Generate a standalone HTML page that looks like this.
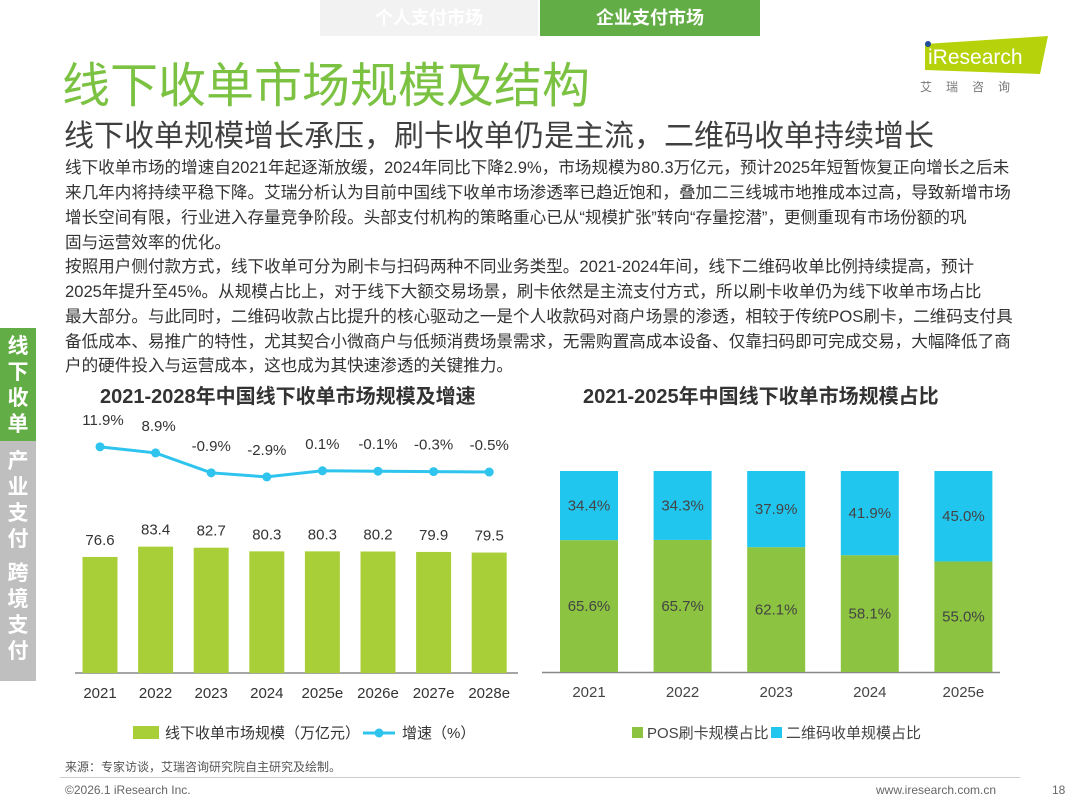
<!DOCTYPE html>
<html><head><meta charset="utf-8"><style>
body{margin:0;width:1080px;height:810px;background:#fff;position:relative;overflow:hidden;font-family:"Liberation Sans","Noto Sans CJK SC",sans-serif;}
.abs{position:absolute;}
.p{position:absolute;left:65px;font-size:16.6px;color:#333;white-space:nowrap;line-height:20px;}
</style></head><body>
<div class="abs" style="left:320px;top:0;width:218px;height:36px;background:#f2f2f2;color:#fff;font-size:18px;font-weight:bold;text-align:center;line-height:36px;">个人支付市场</div>
<div class="abs" style="left:540px;top:0;width:220px;height:36px;background:#62ad45;color:#fff;font-size:18px;font-weight:bold;text-align:center;line-height:36px;">企业支付市场</div>
<div class="abs" style="left:62px;top:46px;font-size:48px;color:#7cc242;white-space:nowrap;">线下收单市场规模及结构</div>
<div class="abs" style="left:920px;top:36px;width:130px;height:60px;">
<svg width="130" height="60"><polygon points="5,8 128,0 120,38 5,34" fill="#b5d20a"/><circle cx="8" cy="8" r="3" fill="#1f4e9a"/><text x="8" y="28" font-size="21" fill="#fff" font-family="Liberation Sans">iResearch</text><text x="0" y="55" font-size="12" fill="#777" letter-spacing="14" font-family="Noto Sans CJK SC">艾瑞咨询</text></svg></div>
<div class="abs" style="left:64px;top:111px;font-size:30px;color:#404040;white-space:nowrap;">线下收单规模增长承压，刷卡收单仍是主流，二维码收单持续增长</div>
<div>
<div class="p" style="top:158px">线下收单市场的增速自2021年起逐渐放缓，2024年同比下降2.9%，市场规模为80.3万亿元，预计2025年短暂恢复正向增长之后未</div>
<div class="p" style="top:183px">来几年内将持续平稳下降。艾瑞分析认为目前中国线下收单市场渗透率已趋近饱和，叠加二三线城市地推成本过高，导致新增市场</div>
<div class="p" style="top:208px">增长空间有限，行业进入存量竞争阶段。头部支付机构的策略重心已从“规模扩张”转向“存量挖潜”，更侧重现有市场份额的巩</div>
<div class="p" style="top:233px">固与运营效率的优化。</div>
<div class="p" style="top:257px">按照用户侧付款方式，线下收单可分为刷卡与扫码两种不同业务类型。2021-2024年间，线下二维码收单比例持续提高，预计</div>
<div class="p" style="top:282px">2025年提升至45%。从规模占比上，对于线下大额交易场景，刷卡依然是主流支付方式，所以刷卡收单仍为线下收单市场占比</div>
<div class="p" style="top:307px">最大部分。与此同时，二维码收款占比提升的核心驱动之一是个人收款码对商户场景的渗透，相较于传统POS刷卡，二维码支付具</div>
<div class="p" style="top:332px">备低成本、易推广的特性，尤其契合小微商户与低频消费场景需求，无需购置高成本设备、仅靠扫码即可完成交易，大幅降低了商</div>
<div class="p" style="top:356px">户的硬件投入与运营成本，这也成为其快速渗透的关键推力。</div>
</div>
<div class="abs" style="left:0;top:328px;width:36px;height:113px;background:#62ad45;color:#fff;font-size:21px;font-weight:bold;text-align:center;line-height:26px;padding-top:6px;box-sizing:border-box;">线<br>下<br>收<br>单</div>
<div class="abs" style="left:0;top:441px;width:36px;height:240px;background:#bfbfbf;color:#fff;font-size:21px;font-weight:bold;text-align:center;line-height:26px;padding-top:8px;box-sizing:border-box;">产<br>业<br>支<br>付<br><div style="height:8px"></div>跨<br>境<br>支<br>付</div>
<div class="abs" style="left:100px;top:380px;font-size:20px;font-weight:bold;color:#333;white-space:nowrap;">2021-2028年中国线下收单市场规模及增速</div>
<div class="abs" style="left:583px;top:380px;font-size:20px;font-weight:bold;color:#333;white-space:nowrap;">2021-2025年中国线下收单市场规模占比</div>
<svg class="abs" style="left:0;top:0" width="1080" height="810" id="charts"></svg>
<div class="abs" style="left:65px;top:758px;font-size:12px;color:#555;">来源：专家访谈，艾瑞咨询研究院自主研究及绘制。</div>
<div class="abs" style="left:60px;top:777px;width:960px;height:1px;background:#ccc;"></div>
<div class="abs" style="left:65px;top:783px;font-size:12px;color:#666;">©2026.1 iResearch Inc.</div>
<div class="abs" style="left:876px;top:783px;font-size:12px;color:#666;">www.iresearch.com.cn</div>
<div class="abs" style="left:1052px;top:783px;font-size:12px;color:#666;">18</div>
<script>
const years=['2021','2022','2023','2024','2025e','2026e','2027e','2028e'];
const scale=[76.6,83.4,82.7,80.3,80.3,80.2,79.9,79.5];
const growth=[11.9,8.9,-0.9,-2.9,0.1,-0.1,-0.3,-0.5];
const years2=['2021','2022','2023','2024','2025e'];
const pos=[65.6,65.7,62.1,58.1,55.0];
const qr=[34.4,34.3,37.9,41.9,45.0];
const NS='http://www.w3.org/2000/svg';
const svg=document.getElementById('charts');
function el(t,a,txt){const e=document.createElementNS(NS,t);for(const k in a)e.setAttribute(k,a[k]);if(txt!==undefined)e.textContent=txt;svg.appendChild(e);return e;}
const F='Liberation Sans, Noto Sans CJK SC, sans-serif';
const bx=i=>100+i*55.6, by=v=>673-v*1.515, gy=v=>471-v*2.03;
let ax=el('line',{x1:75,x2:518,y1:673,y2:673,stroke:'#888','stroke-width':1.5});

scale.forEach((v,i)=>{
 let r=el('rect',{x:bx(i)-17.5,y:by(v),width:35,height:673-by(v),fill:'#a9cf38'});
 
 let t=el('text',{x:bx(i),y:by(v)-12,'text-anchor':'middle','font-size':15,fill:'#333','font-family':F},v.toFixed(1));
 
 let l=el('text',{x:bx(i),y:698,'text-anchor':'middle','font-size':15,fill:'#333','font-family':F},years[i]);
 
});
let pl=el('polyline',{points:growth.map((g,i)=>bx(i)+','+gy(g)).join(' '),fill:'none',stroke:'#2ec4ee','stroke-width':3});

growth.forEach((g,i)=>{
 let c=el('circle',{cx:bx(i),cy:gy(g),r:4.5,fill:'#2ec4ee'});
 
 let t=el('text',{x:bx(i)+(i<2?3:0),y:gy(g)-22,'text-anchor':'middle','font-size':15,fill:'#333','font-family':F},g.toFixed(1)+'%');
 
});
let lg=el('rect',{x:133,y:726,width:26,height:13,fill:'#a9cf38'});
let lt=el('text',{x:165,y:738,'font-size':15,fill:'#333','font-family':F},'线下收单市场规模（万亿元）');
let ll=el('line',{x1:363,x2:395,y1:733,y2:733,stroke:'#2ec4ee','stroke-width':3});
let lc=el('circle',{cx:379,cy:733,r:4.5,fill:'#2ec4ee'});
let lt2=el('text',{x:402,y:738,'font-size':15,fill:'#333','font-family':F},'增速（%）');
const rx=i=>589+i*93.6, ry=v=>672-v*2.01;
let ax2=el('line',{x1:542,x2:1000,y1:672.5,y2:672.5,stroke:'#888','stroke-width':1.5});

years2.forEach((y,i)=>{
 let g=el('rect',{x:rx(i)-29,y:ry(pos[i]),width:58,height:672-ry(pos[i]),fill:'#8cc340'});
 
 let b=el('rect',{x:rx(i)-29,y:ry(pos[i]+qr[i]),width:58,height:ry(pos[i])-ry(pos[i]+qr[i]),fill:'#21c6ef'});
 
 let t1=el('text',{x:rx(i),y:(ry(pos[i])+672)/2+5,'text-anchor':'middle','font-size':15,fill:'#444','font-family':F},pos[i].toFixed(1)+'%');
 
 let t2=el('text',{x:rx(i),y:(ry(pos[i])+ry(pos[i]+qr[i]))/2+5,'text-anchor':'middle','font-size':15,fill:'#444','font-family':F},qr[i].toFixed(1)+'%');
 
 let l=el('text',{x:rx(i),y:697,'text-anchor':'middle','font-size':15,fill:'#444','font-family':F},y);
 
});
let r1=el('rect',{x:632,y:727,width:11,height:11,fill:'#8cc340'});
let rt1=el('text',{x:647,y:738,'font-size':15,fill:'#444','font-family':F},'POS刷卡规模占比');
let r2=el('rect',{x:771,y:727,width:11,height:11,fill:'#21c6ef'});
let rt2=el('text',{x:786,y:738,'font-size':15,fill:'#444','font-family':F},'二维码收单规模占比');
</script>
</body></html>
